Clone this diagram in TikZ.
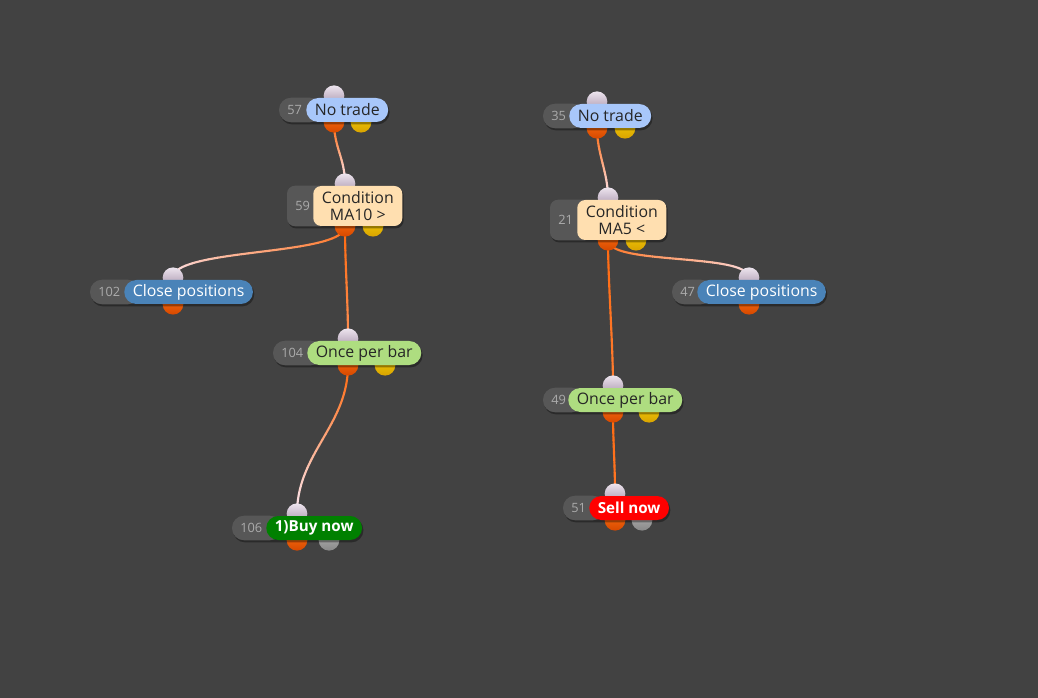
\documentclass[tikz,border=0pt]{standalone}
\usepackage{fontspec}
\setmainfont{Open Sans}
\pgfdeclarelayer{bg}
\pgfdeclarelayer{wires}
\pgfdeclarelayer{ports}
\pgfdeclarelayer{pills}
\pgfsetlayers{bg,wires,ports,pills,main}

\definecolor{canvas}{HTML}{424242}
\definecolor{pillgray}{HTML}{575757}
\definecolor{numtext}{HTML}{ABABAB}
\definecolor{labeltext}{HTML}{262626}
\definecolor{notradefill}{HTML}{A8C7FA}
\definecolor{condfill}{HTML}{FFDFB0}
\definecolor{closefill}{HTML}{4A83B8}
\definecolor{oncefill}{HTML}{AEDD80}
\definecolor{buyfill}{HTML}{008000}
\definecolor{sellfill}{HTML}{FF0000}
\definecolor{wireorange}{HTML}{FF6A10}
\definecolor{wirepale}{HTML}{FBE4EC}
\definecolor{inhi}{HTML}{EDE4EE}
\definecolor{inlo}{HTML}{A693AA}
\definecolor{outhi}{HTML}{FF7412}
\definecolor{outlo}{HTML}{D64800}
\definecolor{yelhi}{HTML}{F4CF08}
\definecolor{yello}{HTML}{D9A400}
\definecolor{greyhi}{HTML}{B8B8B8}
\definecolor{greylo}{HTML}{888888}

\tikzset{
  opbox/.style={
    draw=none,
    rounded corners=9pt,
    minimum height=18pt,
    inner xsep=6.4pt,
    inner ysep=1pt,
    text=labeltext,
    font=\fontsize{11.9}{12.2}\selectfont
  },
  notrade/.style={opbox, fill=notradefill},
  cond/.style={opbox, fill=condfill, rounded corners=6pt, minimum height=30pt, align=center},
  closepos/.style={opbox, fill=closefill, text=white},
  oncebar/.style={opbox, fill=oncefill},
  buynow/.style={opbox, fill=buyfill, text=white, font=\fontsize{11.4}{12.2}\selectfont\bfseries},
  sellnow/.style={opbox, fill=sellfill, text=white, font=\fontsize{11.4}{12.2}\selectfont\bfseries},
  numtag/.style={inner sep=0pt, text=numtext, font=\fontsize{9.6}{11}\selectfont},
  port/.style={circle, inner sep=0pt, minimum size=15.5pt},
  inport/.style={port, top color=inhi, bottom color=inlo},
  outport/.style={port, top color=outhi, bottom color=outlo},
  yelport/.style={port, top color=yelhi, bottom color=yello},
  greyport/.style={port, top color=greyhi, bottom color=greylo}
}

% label first, then the grey number pill and its shadow underneath
\newcommand{\opblock}[7]{
  \node[#6, anchor=west] (#1) at (#4,#5) {#7};
  \begin{pgfonlayer}{pills}
    \fill[#6, fill=black, fill opacity=.35, transform canvas={shift={(0.8pt,-1.6pt)}}]
      (#3,0 |- #1.north) rectangle (#1.south east);
    \fill[#6, fill=pillgray] (#3,0 |- #1.north) rectangle ({#4+16},0 |- #1.south);
  \end{pgfonlayer}
  \node[numtag, anchor=west] (#1-num) at ({#3+8},#5) {#2};
}
\newcommand{\opports}[2]{
  \begin{pgfonlayer}{ports}
    \node[inport, yshift=1.5pt] (#1-in) at (#2,0 |- #1.north) {};
    \node[outport] (#1-out) at (#2,0 |- #1.south) {};
  \end{pgfonlayer}
}
\newcommand{\auxport}[3]{
  \begin{pgfonlayer}{ports}
    \node[#3] (#1-aux) at (#2,0 |- #1.south) {};
  \end{pgfonlayer}
}
% wire: from, to, bend (px), how pale it gets at the far end (0..100)
\newcommand{\wire}[4]{
  \begin{pgfonlayer}{wires}
  \foreach \k in {0,...,23}{
    \pgfmathsetmacro{\ta}{\k/24}
    \pgfmathsetmacro{\tb}{(\k+1)/24}
    \pgfmathsetmacro{\mixval}{100-#4*\k/23}
    \colorlet{wiretint}{wireorange!\mixval!wirepale}
    \begin{pgfscope}
      \pgfsetstrokecolor{wiretint}
      \pgfsetlinewidth{1.6pt}
      \pgfsetroundcap
      \pgfpathcurvebetweentime{\ta}{\tb}
        {\pgfpointanchor{#1}{center}}
        {\pgfpointadd{\pgfpointanchor{#1}{center}}{\pgfpoint{0pt}{-#3*0.75pt}}}
        {\pgfpointadd{\pgfpointanchor{#2}{center}}{\pgfpoint{0pt}{#3*0.75pt}}}
        {\pgfpointanchor{#2}{center}}
      \pgfusepath{stroke}
    \end{pgfscope}
  }
  \end{pgfonlayer}
}

\begin{document}
\begin{tikzpicture}[x=0.75pt, y=-0.75pt]

  \begin{pgfonlayer}{bg}
    \fill[canvas] (0,0) rectangle (1038,698);
  \end{pgfonlayer}
  \useasboundingbox (0,0) rectangle (1038,698);

  % left strategy
  \opblock{a57}{57}{279}{306}{110}{notrade}{No trade}
  \opblock{a59}{59}{287}{313}{206}{cond}{Condition\\MA10 >}
  \opblock{a102}{102}{90}{124}{292}{closepos}{Close positions}
  \opblock{a104}{104}{273}{307}{353}{oncebar}{Once per bar}
  \opblock{a106}{106}{232}{266}{528}{buynow}{1)Buy now}

  \opports{a57}{334}   \auxport{a57}{361}{yelport}
  \opports{a59}{345}   \auxport{a59}{373}{yelport}
  \opports{a102}{173}
  \opports{a104}{348}  \auxport{a104}{385}{yelport}
  \opports{a106}{297}  \auxport{a106}{329}{greyport}

  % right strategy
  \opblock{b35}{35}{543}{569}{116}{notrade}{No trade}
  \opblock{b21}{21}{550}{577}{220}{cond}{Condition\\MA5 <}
  \opblock{b47}{47}{672}{697}{292}{closepos}{Close positions}
  \opblock{b49}{49}{543}{568}{400}{oncebar}{Once per bar}
  \opblock{b51}{51}{563}{589}{508}{sellnow}{Sell now}

  \opports{b35}{597}   \auxport{b35}{625}{yelport}
  \opports{b21}{608}   \auxport{b21}{636}{yelport}
  \opports{b47}{749}
  \opports{b49}{613}   \auxport{b49}{649}{yelport}
  \opports{b51}{615}   \auxport{b51}{642}{greyport}

  \wire{a57-out}{a59-in}{25}{100}
  \wire{a59-out}{a102-in}{30}{100}
  \wire{a59-out}{a104-in}{40}{30}
  \wire{a104-out}{a106-in}{60}{100}
  \wire{b35-out}{b21-in}{25}{100}
  \wire{b21-out}{b47-in}{25}{100}
  \wire{b21-out}{b49-in}{40}{15}
  \wire{b49-out}{b51-in}{30}{10}

\end{tikzpicture}
\end{document}
